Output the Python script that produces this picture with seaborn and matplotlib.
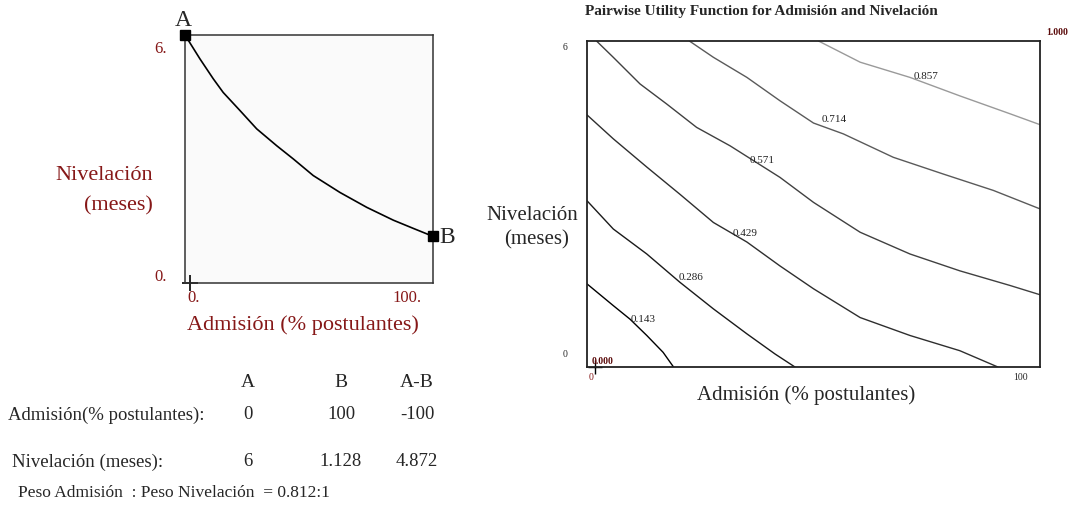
import matplotlib
matplotlib.use("Agg")
import matplotlib.pyplot as plt
import pandas as pd
import seaborn as sns

DARK_RED = "#861818"
W, H = 1073, 510

# Indifference curve A -> B (Admisión %, Nivelación meses)
curve_x = [0, 6.05, 11.4, 15.4, 22.2, 28.9, 37.0, 43.7, 51.7, 62.5, 73.3, 84.0, 92.1, 100]
curve_y = [6.0, 5.42, 4.94, 4.61, 4.17, 3.73, 3.32, 3.00, 2.60, 2.19, 1.83, 1.52, 1.32, 1.128]
point_names = ["A", "B"]
point_x = [0, 100]
point_y = [6, 1.128]

# Trade-off table
table_cols = ["A", "B", "A-B"]
admision_row = ["0", "100", "-100"]
nivelacion_row = ["6", "1.128", "4.872"]
weight_ratio = "0.812:1"

# Pairwise utility contour lines (x = Admisión, y = Nivelación)
levels = ["0.143", "0.286", "0.429", "0.571", "0.714", "0.857"]
c143_x = [0, 5.8, 9.5, 13.2, 16.8, 19.1]
c143_y = [1.53, 1.13, 0.88, 0.58, 0.27, 0.0]
c286_x = [0, 5.8, 13.2, 20.5, 27.9, 35.3, 41.5, 45.9]
c286_y = [3.06, 2.54, 2.08, 1.56, 1.07, 0.61, 0.24, 0.0]
c429_x = [0, 5.8, 13.2, 20.5, 27.9, 35.3, 42.6, 50.0, 60.3, 71.3, 82.3, 90.7]
c429_y = [4.64, 4.20, 3.68, 3.18, 2.66, 2.30, 1.86, 1.44, 0.91, 0.58, 0.30, 0.0]
c571_x = [2.1, 5.8, 11.7, 17.6, 24.2, 31.6, 42.6, 50.0, 60.3, 71.3, 82.3, 93.4, 100]
c571_y = [6.0, 5.70, 5.21, 4.84, 4.41, 4.07, 3.49, 3.03, 2.48, 2.08, 1.77, 1.50, 1.33]
c714_x = [22.6, 27.9, 35.3, 42.6, 50.0, 56.6, 67.6, 78.7, 89.7, 100]
c714_y = [6.0, 5.70, 5.33, 4.90, 4.49, 4.29, 3.86, 3.55, 3.25, 2.91]
c857_x = [51.1, 60.3, 71.3, 82.3, 93.4, 100]
c857_y = [6.0, 5.61, 5.33, 4.99, 4.66, 4.46]

contour_x = [c143_x, c286_x, c429_x, c571_x, c714_x, c857_x]
contour_y = [c143_y, c286_y, c429_y, c571_y, c714_y, c857_y]
contour_colors = ["#000000", "#1a1a1a", "#2e2e2e", "#404040", "#5a5a5a", "#9a9a9a"]
# label anchor (data coords) for each contour
label_pos = [(12.4, 0.90), (23.0, 1.66), (34.9, 2.47), (38.6, 3.81), (54.5, 4.58), (74.8, 5.37)]


def fx(x):
    return x / W


def fy(y):
    return 1 - y / H


sns.set_theme(style="white")
plt.rcParams["font.family"] = ["Liberation Serif", "DejaVu Serif"]

fig = plt.figure(figsize=(W / 100, H / 100), dpi=100)

# ─────────────────────────────────────────────────────────────────────────────
# Left: indifference curve
# ─────────────────────────────────────────────────────────────────────────────
ax = fig.add_axes([fx(185), fy(284), 248 / W, 248 / H])
ax.set_facecolor("#fafafa")
sns.lineplot(x=curve_x, y=curve_y, sort=False, estimator=None, color="black",
             linewidth=1.2, ax=ax)
ax.plot(point_x, point_y, "s", color="black", markersize=7, clip_on=False, zorder=5)
ax.plot([2], [0], "+", color="black", markersize=12, markeredgewidth=1.2, clip_on=False)
ax.set_xlim(0, 100)
ax.set_ylim(0, 6)
ax.set_xticks([]); ax.set_yticks([])
ax.set_xlabel(""); ax.set_ylabel("")
for s in ax.spines.values():
    s.set_color("#333333"); s.set_linewidth(1.1)

ax.text(-0.8, 6.24, point_names[0], ha="center", va="baseline", fontsize=17)
ax.text(102.5, point_y[1], point_names[1], ha="left", va="center", fontsize=17)

ax.text(-0.075, 0.948, "6.", transform=ax.transAxes, ha="right", va="center",
        fontsize=12, color=DARK_RED)
ax.text(-0.075, 0.028, "0.", transform=ax.transAxes, ha="right", va="center",
        fontsize=12, color=DARK_RED)
ax.text(0.035, -0.058, "0.", transform=ax.transAxes, ha="center", va="center",
        fontsize=12, color=DARK_RED)
ax.text(0.895, -0.058, "100.", transform=ax.transAxes, ha="center", va="center",
        fontsize=12, color=DARK_RED)

fig.text(fx(153), fy(175), "Nivelación", ha="right", va="center", fontsize=16, color=DARK_RED)
fig.text(fx(153), fy(206), "(meses)", ha="right", va="center", fontsize=16, color=DARK_RED)
fig.text(fx(303), fy(325), "Admisión (% postulantes)", ha="center", va="center",
         fontsize=16, color=DARK_RED)

# Table below the curve
col_cx = [248, 341, 417]
for cx, h in zip(col_cx, table_cols):
    fig.text(fx(cx), fy(383), h, ha="center", va="center", fontsize=14)
fig.text(fx(8), fy(415), "Admisión(% postulantes):", ha="left", va="center", fontsize=13.5)
for cx, v in zip(col_cx, admision_row):
    fig.text(fx(cx), fy(415), v, ha="center", va="center", fontsize=13.5)
fig.text(fx(12), fy(462), "Nivelación (meses):", ha="left", va="center", fontsize=13.5)
for cx, v in zip(col_cx, nivelacion_row):
    fig.text(fx(cx), fy(462), v, ha="center", va="center", fontsize=13.5)
fig.text(fx(18), fy(493), f"Peso Admisión  : Peso Nivelación  = {weight_ratio}",
         ha="left", va="center", fontsize=12.5)

# ─────────────────────────────────────────────────────────────────────────────
# Right: pairwise utility contours
# ─────────────────────────────────────────────────────────────────────────────
ax2 = fig.add_axes([fx(587), fy(368), 453 / W, 326 / H])
ax2.set_facecolor("white")
for lvl, xs, ys, col, (lx, ly) in zip(levels, contour_x, contour_y, contour_colors, label_pos):
    df = pd.DataFrame({"x": xs, "y": ys})
    sns.lineplot(data=df, x="x", y="y", sort=False, estimator=None, color=col,
                 linewidth=1.0, ax=ax2)
    ax2.text(lx, ly, lvl, ha="center", va="center", fontsize=8, color="#222222")
ax2.plot([1.8], [0], "+", color="black", markersize=10, markeredgewidth=1.0, clip_on=False)
ax2.set_xlim(0, 100)
ax2.set_ylim(0, 6)
ax2.set_xticks([]); ax2.set_yticks([])
ax2.set_xlabel(""); ax2.set_ylabel("")
for s in ax2.spines.values():
    s.set_color("#222222"); s.set_linewidth(1.3)

ax2.text(-0.049, 0.982, "6", transform=ax2.transAxes, ha="center", va="center", fontsize=7)
ax2.text(-0.049, 0.04, "0", transform=ax2.transAxes, ha="center", va="center", fontsize=7)
ax2.text(0.008, -0.028, "0", transform=ax2.transAxes, ha="center", va="center",
         fontsize=7, color=DARK_RED)
ax2.text(0.956, -0.028, "100", transform=ax2.transAxes, ha="center", va="center", fontsize=7)
ax2.text(0.035, 0.021, "0.000", transform=ax2.transAxes, ha="center", va="center",
         fontsize=7, color="#5a0a0a", fontweight="bold")
ax2.text(1.038, 1.028, "1.000", transform=ax2.transAxes, ha="center", va="center",
         fontsize=7, color="#5a0a0a", fontweight="bold")

fig.text(fx(761), fy(11), "Pairwise Utility Function for Admisión and Nivelación",
         ha="center", va="center", fontsize=11, fontweight="bold")
fig.text(fx(532), fy(216), "Nivelación", ha="center", va="center", fontsize=15)
fig.text(fx(537), fy(240), "(meses)", ha="center", va="center", fontsize=15)
fig.text(fx(806), fy(395), "Admisión (% postulantes)", ha="center", va="center", fontsize=15)

fig.savefig("out.png", dpi=100)
plt.close(fig)
